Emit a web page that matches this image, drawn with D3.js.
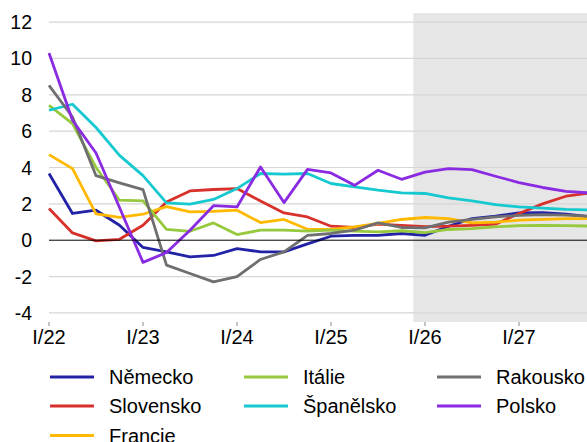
<!DOCTYPE html>
<html><head><meta charset="utf-8">
<script src="https://cdn.jsdelivr.net/npm/d3@7"></script>
<style>
html,body{margin:0;padding:0;background:#fff;}
svg{display:block;font-family:"Liberation Sans",Arial,sans-serif;}
</style></head>
<body>
<svg id="chart" width="587" height="442"></svg>
<script>
// quarters I/22 .. IV/27
const quarters = d3.range(24);
const tickLabels = ["I/22","I/23","I/24","I/25","I/26","I/27"];
const yTicks = [-4,-2,0,2,4,6,8,10,12];
const seriesNames = ["Německo","Slovensko","Francie","Itálie","Španělsko","Rakousko","Polsko"];
const colors = ["#2222a6","#d8312b","#ffb900","#96c93d","#16c8cf","#6f6f6f","#8a2be2"];
// legend grid slots (column, row) for each series
const legendCol = [0,0,0,1,1,2,2];
const legendRow = [0,1,2,0,1,0,1];

const nemecko   = [3.67,1.47,1.65,0.82,-0.4,-0.64,-0.92,-0.84,-0.46,-0.64,-0.64,-0.2,0.22,0.27,0.27,0.37,0.27,0.77,1.19,1.32,1.5,1.52,1.43,1.3];
const slovensko = [1.74,0.4,-0.04,0.05,0.82,2.1,2.71,2.79,2.84,2.16,1.5,1.28,0.77,0.7,0.88,0.82,0.75,0.77,0.82,0.88,1.47,2.0,2.42,2.6];
const francie   = [4.71,3.94,1.45,1.25,1.43,1.85,1.56,1.59,1.65,0.97,1.14,0.6,0.6,0.73,0.92,1.14,1.25,1.19,0.95,1.0,1.1,1.15,1.19,1.19];
const italie    = [7.42,6.41,4.0,2.2,2.16,0.6,0.49,0.95,0.31,0.55,0.55,0.5,0.55,0.5,0.46,0.52,0.42,0.59,0.64,0.73,0.8,0.82,0.8,0.78];
const spanelsko = [7.15,7.48,6.2,4.67,3.55,2.05,1.98,2.24,2.84,3.67,3.63,3.67,3.12,2.93,2.75,2.6,2.57,2.33,2.16,1.96,1.83,1.76,1.7,1.67];
const rakousko  = [8.52,6.78,3.55,3.15,2.78,-1.37,-1.83,-2.29,-2.01,-1.06,-0.64,0.27,0.37,0.55,0.95,0.7,0.68,1.0,1.15,1.28,1.37,1.41,1.38,1.32];
const polsko    = [10.3,6.6,4.8,1.8,-1.22,-0.68,0.55,1.9,1.83,4.03,2.07,3.9,3.7,3.02,3.85,3.35,3.75,3.94,3.88,3.52,3.17,2.9,2.69,2.6];
const seriesValues = [nemecko,slovensko,francie,italie,spanelsko,rakousko,polsko];
const forecastStart = 15.5;

const svg = d3.select("#chart");
const x = d3.scaleLinear().domain([0,23]).range([49, 49 + 23*23.5]);
const y = d3.scaleLinear().domain([-4.5,12.5]).range([322,13]);
const x0 = x(0);

// forecast shading
svg.append("rect")
  .attr("x", x(forecastStart)).attr("y", y(12.5))
  .attr("width", x(23) - x(forecastStart)).attr("height", y(-4.5) - y(12.5))
  .attr("fill", "#e6e6e6");

// gridlines
svg.append("g").selectAll("line").data(yTicks.filter(d => d !== 0)).join("line")
  .attr("x1", x0).attr("x2", x(23))
  .attr("y1", d => y(d)).attr("y2", d => y(d))
  .attr("stroke", "#d6d6d6").attr("stroke-width", 1.2);

// y labels
svg.append("g").selectAll("text").data(yTicks).join("text")
  .attr("x", 32).attr("y", d => y(d)).attr("dy", "0.36em")
  .attr("text-anchor", "end").attr("font-size", 19.5).attr("fill", "#000")
  .text(d => d);

// x axis ticks + labels
const xt = d3.range(0, 24, 4);
svg.append("g").selectAll("line").data(xt).join("line")
  .attr("x1", d => x(d)).attr("x2", d => x(d))
  .attr("y1", 322).attr("y2", 326)
  .attr("stroke", "#888").attr("stroke-width", 1);
svg.append("g").selectAll("text").data(xt).join("text")
  .attr("x", d => x(d)).attr("y", 344)
  .attr("text-anchor", "middle").attr("font-size", 20).attr("fill", "#000")
  .text((d, i) => tickLabels[i]);

// lines
const line = d3.line().x((d, i) => x(quarters[i])).y(d => y(d));
svg.append("g").selectAll("path").data(seriesValues).join("path")
  .attr("d", d => line(d))
  .attr("fill", "none")
  .attr("stroke", (d, i) => colors[i])
  .attr("stroke-width", 2.8)
  .attr("stroke-linejoin", "round");

// zero line
svg.append("line")
  .attr("x1", x0).attr("x2", x(23))
  .attr("y1", y(0)).attr("y2", y(0))
  .attr("stroke", "#000").attr("stroke-width", 1);

// legend
const colX = [50, 244, 437];
const rowY = [377, 406, 435.5];
const lg = svg.append("g").selectAll("g").data(seriesNames).join("g")
  .attr("transform", (d, i) => `translate(${colX[legendCol[i]]},${rowY[legendRow[i]]})`);
lg.append("line").attr("x1", 0).attr("x2", 44).attr("y1", 0).attr("y2", 0)
  .attr("stroke", (d, i) => colors[i]).attr("stroke-width", 3);
lg.append("text").attr("x", 59).attr("y", 0).attr("dy", "0.36em")
  .attr("font-size", 20).attr("fill", "#000").text(d => d);
</script>
</body></html>
